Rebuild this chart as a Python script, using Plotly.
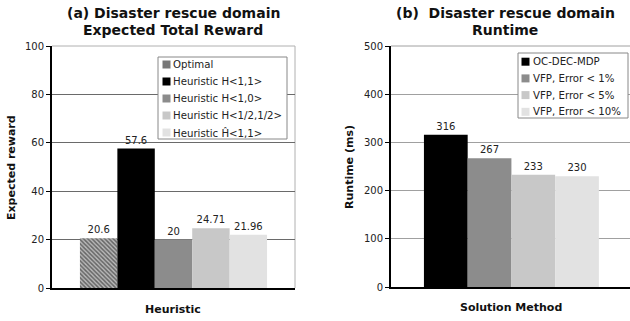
import plotly.graph_objects as go

# ---- data ----
reward_names = ["Optimal", "Heuristic H<1,1>", "Heuristic H<1,0>",
                "Heuristic H<1/2,1/2>", "Heuristic Ĥ<1,1>"]
reward_values = [20.6, 57.6, 20, 24.71, 21.96]
reward_labels = ["20.6", "57.6", "20", "24.71", "21.96"]

runtime_names = ["OC-DEC-MDP", "VFP, Error < 1%", "VFP, Error < 5%", "VFP, Error < 10%"]
runtime_values = [316, 267, 233, 230]
runtime_labels = ["316", "267", "233", "230"]

reward_colors = ["#777777", "#000000", "#8c8c8c", "#c8c8c8", "#e2e2e2"]
runtime_colors = ["#000000", "#8c8c8c", "#c8c8c8", "#e2e2e2"]

FONT = "DejaVu Sans"
W, H = 630, 321


def esc(s):
    return s.replace("<", "&lt;").replace(">", "&gt;")


def px_x(p):
    return p / W


def px_y(p):
    return 1 - p / H


fig = go.Figure()

for i, (n, v, t) in enumerate(zip(reward_names, reward_values, reward_labels)):
    marker = dict(color=reward_colors[i], line=dict(width=0))
    if i == 0:
        marker["pattern"] = dict(shape="\\", fgcolor="#111111", bgcolor="#b8b8b8",
                                 size=3, solidity=0.5)
    fig.add_trace(go.Bar(
        x=["Heuristic"], y=[v], name=esc(n), text=[t], textposition="outside",
        textfont=dict(family=FONT, size=10, color="#222"), cliponaxis=False,
        marker=marker, xaxis="x", yaxis="y", showlegend=False))

for i, (n, v, t) in enumerate(zip(runtime_names, runtime_values, runtime_labels)):
    fig.add_trace(go.Bar(
        x=["Solution Method"], y=[v], name=esc(n), text=[t], textposition="outside",
        textfont=dict(family=FONT, size=10, color="#222"), cliponaxis=False,
        marker=dict(color=runtime_colors[i], line=dict(width=0)),
        xaxis="x2", yaxis="y2", showlegend=False))

axis_common = dict(showline=True, linecolor="black", linewidth=2, ticks="outside",
                   ticklen=4, tickcolor="black", tickwidth=1,
                   tickfont=dict(family=FONT, size=10, color="#222"), zeroline=False)

fig.update_layout(
    width=W, height=H, margin=dict(l=0, r=0, t=0, b=0, autoexpand=False),
    paper_bgcolor="white", plot_bgcolor="white",
    barmode="group", bargap=0.23, bargroupgap=0,
    font=dict(family=FONT, size=10, color="#222"),
    xaxis=dict(domain=[px_x(52), px_x(295)], showticklabels=False, ticks="",
               showline=True, linecolor="black", linewidth=2, anchor="y"),
    yaxis=dict(domain=[px_y(288), px_y(46)], range=[0, 100], tickvals=[0, 20, 40, 60, 80, 100],
               showgrid=True, gridcolor="#6a6a6a", gridwidth=1, anchor="x", **axis_common),
    xaxis2=dict(domain=[px_x(391), 1.0], range=[-0.530, 0.522], showticklabels=False, ticks="",
                showline=True, linecolor="black", linewidth=2, anchor="y2"),
    yaxis2=dict(domain=[px_y(287), px_y(46)], range=[0, 500], tickvals=[0, 100, 200, 300, 400, 500],
                showgrid=True, gridcolor="#a0a0a0", gridwidth=1, anchor="x2", **axis_common),
)

shapes = []
# plot frame extras
shapes.append(dict(type="line", xref="x domain", yref="y domain", x0=0, x1=1, y0=1, y1=1,
                   line=dict(color="#b0b0b0", width=1), layer="above"))
shapes.append(dict(type="line", xref="x domain", yref="y domain", x0=1, x1=1, y0=0, y1=1,
                   line=dict(color="#b0b0b0", width=1), layer="below"))
shapes.append(dict(type="line", xref="x2 domain", yref="y2 domain", x0=0, x1=1, y0=1, y1=1,
                   line=dict(color="#a0a0a0", width=1), layer="above"))

ann = []


def text_at(text, x, y, size=14, angle=0, xanchor="center", color="#111"):
    ann.append(dict(text=text, x=px_x(x), y=px_y(y), xref="paper", yref="paper",
                    showarrow=False, xanchor=xanchor, yanchor="middle", textangle=angle,
                    font=dict(family=FONT, size=size, color=color)))


# custom legends (box, swatches, labels)
def legend(names, colors, box, first_y, step, sq_x, txt_x):
    x0, y0, x1, y1 = box
    shapes.append(dict(type="rect", xref="paper", yref="paper",
                       x0=px_x(x0), x1=px_x(x1), y0=px_y(y1), y1=px_y(y0),
                       line=dict(color="#888", width=1), fillcolor="white", layer="above"))
    for k, (n, c) in enumerate(zip(names, colors)):
        yc = first_y + k * step
        shapes.append(dict(type="rect", xref="paper", yref="paper",
                           x0=px_x(sq_x), x1=px_x(sq_x + 8), y0=px_y(yc + 4), y1=px_y(yc - 4),
                           line=dict(width=0), fillcolor=c, layer="above"))
        text_at(esc(n), txt_x, yc, size=10.2, xanchor="left", color="#222")


legend(reward_names, reward_colors, (158, 57, 287, 139), 64.5, 17, 162.5, 171.5)
legend(runtime_names, runtime_colors, (518, 53, 628, 118), 61.7, 16.7, 521.5, 530.5)

text_at("<b>(a) Disaster rescue domain</b>", 173, 13)
text_at("<b>Expected Total Reward</b>", 173, 30)
text_at("<b>(b)  Disaster rescue domain</b>", 505, 13)
text_at("<b>Runtime</b>", 505, 30)
text_at("<b>Heuristic</b>", 173, 309, size=11)
text_at("<b>Solution Method</b>", 511, 307, size=11)
text_at("<b>Expected reward</b>", 12, 168, size=11, angle=-90)
text_at("<b>Runtime (ms)</b>", 350, 167, size=11, angle=-90)

fig.update_layout(shapes=shapes, annotations=ann)

fig.write_html("out.html", config={"displayModeBar": False},
               post_script="document.body.style.margin='0';")
